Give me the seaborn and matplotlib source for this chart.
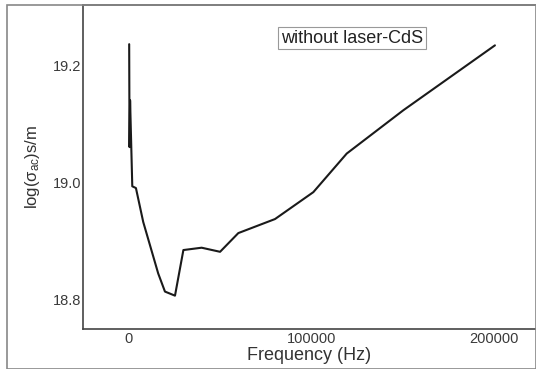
import matplotlib
matplotlib.use("Agg")
import matplotlib.pyplot as plt
import seaborn as sns
import pandas as pd
from matplotlib.patches import Rectangle

frequency = [100, 300, 600, 1800, 3800, 7800, 16000, 19700, 25200, 29800,
             39800, 49900, 59900, 80000, 101000, 119300, 150300, 200500]
log_sigma = [19.236, 19.06, 19.14, 18.993, 18.99, 18.932, 18.844, 18.813, 18.806, 18.884,
             18.888, 18.881, 18.913, 18.937, 18.983, 19.049, 19.123, 19.234]
x_ticks = [0, 100000, 200000]
y_ticks = [18.8, 19.0, 19.2]

df = pd.DataFrame({"Frequency (Hz)": frequency, "log": log_sigma})

sns.set_theme(style="white")
plt.rcParams['font.family'] = ['Liberation Sans', 'DejaVu Sans']
plt.rcParams['mathtext.fontset'] = 'custom'
plt.rcParams['mathtext.rm'] = 'Liberation Sans'

fig = plt.figure(figsize=(5.36, 3.69), dpi=100)
ax = fig.add_axes([83/536, 1-329/369, 1-83/536, (329-5)/369])

sns.lineplot(data=df, x="Frequency (Hz)", y="log", sort=False, color="#1a1a1a",
             linewidth=1.5, ax=ax)

ax.set_xlim(-25200, 223000)
ax.set_ylim(18.749, 19.303)
ax.set_xticks(x_ticks)
ax.set_xticklabels([str(t) for t in x_ticks])
ax.set_yticks(y_ticks)
ax.set_yticklabels([f"{t:.1f}" for t in y_ticks])
ax.tick_params(axis='both', length=0, labelsize=10.5, colors="#3a3a3a")
ax.tick_params(axis='y', pad=1)
ax.tick_params(axis='x', pad=2)
ax.set_xlabel("Frequency (Hz)", fontsize=13, color="#333333", labelpad=1)
ax.set_ylabel(r"log($\mathregular{\sigma_{ac}}$)s/m", fontsize=12, color="#333333", labelpad=8)

for side in ["left", "bottom", "top"]:
    ax.spines[side].set_color("#444444")
    ax.spines[side].set_linewidth(1.2)
ax.spines["right"].set_visible(False)

ax.text(0.594, 0.898, "without laser-CdS", transform=ax.transAxes, ha="center", va="center",
        fontsize=13, color="#222222",
        bbox=dict(boxstyle="square,pad=0.15", facecolor="white", edgecolor="#999999", linewidth=0.8))

fig.patches.append(Rectangle((7/536, 0), 1-7/536, 1-5/369, transform=fig.transFigure,
                             fill=False, edgecolor="#888888", linewidth=1.2))

fig.savefig("out.png", dpi=100)
